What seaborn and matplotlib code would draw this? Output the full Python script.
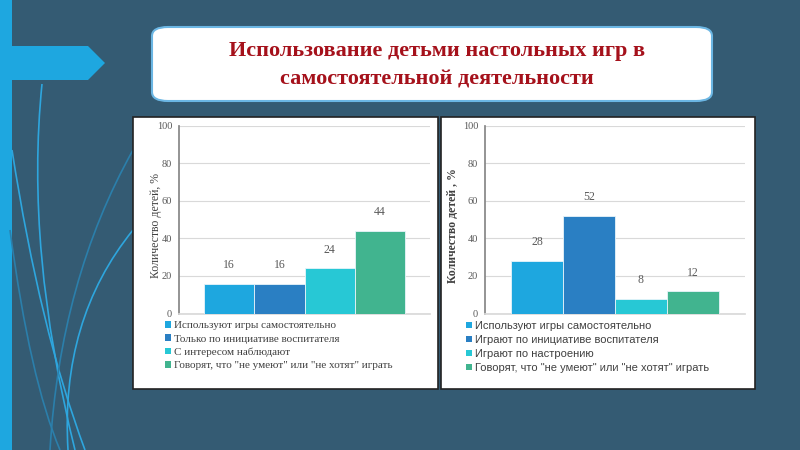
import matplotlib
matplotlib.use("Agg")
import matplotlib.pyplot as plt
import seaborn as sns
import pandas as pd
from matplotlib.patches import Rectangle, FancyBboxPatch, Polygon, PathPatch
from matplotlib.path import Path

# data
title_lines = ["Использование детьми настольных игр в", "самостоятельной деятельности"]
left_labels = ["Используют игры самостоятельно", "Только по инициативе воспитателя",
               "С интересом наблюдают", "Говорят, что \"не умеют\" или \"не хотят\" играть"]
left_values = [16, 16, 24, 44]
right_labels = ["Используют игры самостоятельно", "Играют по инициативе воспитателя",
                "Играют по настроению", "Говорят, что \"не умеют\" или \"не хотят\" играть"]
right_values = [28, 52, 8, 12]
yticks = [0, 20, 40, 60, 80, 100]
bar_colors = ["#1ea7df", "#2a7fc3", "#27c8d5", "#41b48f"]

BG = "#345b73"
W, H = 800, 450


def fx(x):
    return x / W


def fy(y):
    return 1 - y / H


sns.set_theme(style="white")
plt.rcParams["font.family"] = ["Liberation Serif", "DejaVu Serif"]

fig = plt.figure(figsize=(8, 4.5), dpi=100)
fig.patch.set_facecolor(BG)

# left decoration
fig.patches.append(Rectangle((0, 0), fx(12), 1, transform=fig.transFigure,
                             facecolor="#1ea7e0", edgecolor="none", zorder=0))
arrow = [(0, 46), (88, 46), (105, 63), (88, 80), (0, 80)]
fig.patches.append(Polygon([(fx(a), fy(b)) for a, b in arrow], closed=True,
                           transform=fig.transFigure, facecolor="#1ea7e0",
                           edgecolor="none", zorder=0))
curves = [
    [(42, 84), (25, 250), (75, 450)],
    [(12, 150), (40, 330), (85, 450)],
    [(10, 230), (30, 380), (60, 450)],
    [(133, 150), (60, 280), (50, 450)],
    [(133, 230), (60, 320), (68, 450)],
]
curve_cols = ["#2ea6de", "#2ea6de", "#2b7fab", "#2b7fab", "#2ea6de"]
for pts, c in zip(curves, curve_cols):
    path = Path([(fx(a), fy(b)) for a, b in pts], [Path.MOVETO, Path.CURVE3, Path.CURVE3])
    fig.patches.append(PathPatch(path, transform=fig.transFigure, facecolor="none",
                                 edgecolor=c, lw=1.2, zorder=0))

# title box
fig.patches.append(FancyBboxPatch((fx(152), fy(101)), fx(712 - 152), (101 - 27) / H,
                                  boxstyle="round,pad=0,rounding_size=0.02",
                                  transform=fig.transFigure, facecolor="white",
                                  edgecolor="#6bb6e3", lw=1.5, zorder=1))
for line, yy in zip(title_lines, [51, 79]):
    fig.text(fx(437), fy(yy), line, ha="center", va="center", color="#a5111b",
             fontsize=16, fontweight="bold", family=["Liberation Serif", "DejaVu Serif"])

# chart panels
for x0, x1 in [(133, 438), (441, 755)]:
    fig.patches.append(Rectangle((fx(x0), fy(389)), fx(x1 - x0), (389 - 117) / H,
                                 transform=fig.transFigure, facecolor="white",
                                 edgecolor="#222222", lw=1.2, zorder=1))


def draw_chart(box, values, labels, ylabel, ylabel_bold, ylabel_x, leg_xy, leg_font):
    x0, x1, ytop, ybot = box
    ax = fig.add_axes([fx(x0), fy(ybot), fx(x1 - x0), (ybot - ytop) / H])
    ax.set_zorder(3)
    ax.set_facecolor("none")
    df = pd.DataFrame({"group": [""] * len(values), "series": labels, "value": values})
    sns.barplot(data=df, x="group", y="value", hue="series", palette=bar_colors,
                saturation=1, width=0.8, edgecolor="#e8f4fa", linewidth=0.6,
                legend=False, ax=ax, zorder=3)
    ax.set_xlim(-0.5, 0.5)
    ax.set_ylim(0, 100)
    ax.set_yticks(yticks)
    ax.tick_params(axis="y", labelsize=7.5, colors="#595959", length=0, pad=5)
    ax.set_xticks([])
    ax.set_xlabel("")
    ax.grid(axis="y", color="#d9d9d9", lw=0.8, zorder=0)
    ax.set_axisbelow(True)
    for s in ["top", "right"]:
        ax.spines[s].set_visible(False)
    ax.spines["left"].set_color("#868686")
    ax.spines["bottom"].set_color("#d9d9d9")
    ax.set_ylabel(ylabel, fontsize=8.5, color="#404040",
                  fontweight="bold" if ylabel_bold else "normal")
    ax.yaxis.set_label_coords((ylabel_x - x0) / (x1 - x0), 0.47)
    for cont in ax.containers:
        ax.bar_label(cont, padding=9, fontsize=8.5, color="#595959")
    handles = [Rectangle((0, 0), 1, 1, facecolor=c, edgecolor="none") for c in bar_colors]
    leg = fig.legend(handles, labels, loc="upper left",
                     bbox_to_anchor=(fx(leg_xy[0]), fy(leg_xy[1])), frameon=False,
                     handlelength=0.55, handleheight=0.55, handletextpad=0.25,
                     labelspacing=0.36, borderpad=0, borderaxespad=0,
                     prop={"family": leg_font, "size": 8}, labelcolor="#404040")
    leg.set_zorder(4)
    return ax


draw_chart((179, 430, 125.5, 313.6), left_values, left_labels,
           "Количество детей, %", False, 162, (165, 321), ["Liberation Serif", "DejaVu Serif"])
draw_chart((485, 745, 125.5, 313.6), right_values, right_labels,
           "Количество детей , %", True, 459, (466, 321), ["Liberation Sans", "DejaVu Sans"])

fig.savefig("out.png", dpi=100, facecolor=BG)
